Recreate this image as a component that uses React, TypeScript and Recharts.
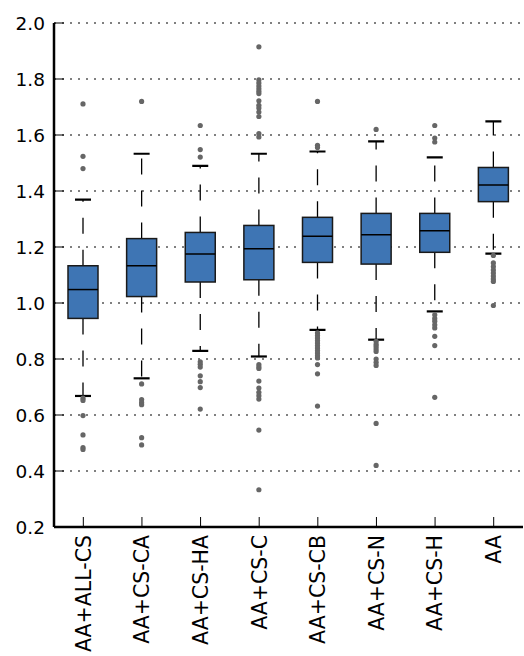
import React from "react";
import { Bar, CartesianGrid, ComposedChart, XAxis, YAxis } from "recharts";

const categories = ["AA+ALL-CS", "AA+CS-CA", "AA+CS-HA", "AA+CS-C", "AA+CS-CB", "AA+CS-N", "AA+CS-H", "AA"];
const lowCaps = [0.668, 0.731, 0.829, 0.809, 0.904, 0.869, 0.97, 1.176];
const q1s = [0.945, 1.023, 1.075, 1.083, 1.145, 1.139, 1.181, 1.362];
const medians = [1.048, 1.133, 1.175, 1.194, 1.238, 1.244, 1.258, 1.421];
const q3s = [1.133, 1.23, 1.252, 1.277, 1.306, 1.32, 1.32, 1.484];
const highCaps = [1.369, 1.533, 1.49, 1.533, 1.541, 1.577, 1.52, 1.649];
const outliers = [
  [1.711, 1.524, 1.48, 0.66, 0.652, 0.598, 0.529, 0.484, 0.477],
  [1.72, 0.711, 0.655, 0.645, 0.637, 0.519, 0.493],
  [1.634, 1.548, 1.521, 0.79, 0.781, 0.771, 0.74, 0.719, 0.698, 0.621],
  [1.915, 1.797, 1.786, 1.775, 1.765, 1.756, 1.748, 1.722, 1.706, 1.696, 1.682, 1.666, 1.605, 1.593,
    0.78, 0.772, 0.766, 0.721, 0.696, 0.681, 0.669, 0.657, 0.546, 0.333],
  [1.72, 1.563, 1.555, 0.893, 0.884, 0.875, 0.866, 0.857, 0.848, 0.839, 0.83, 0.821, 0.812, 0.804, 0.78, 0.747, 0.632],
  [1.62, 0.863, 0.853, 0.845, 0.836, 0.827, 0.8, 0.788, 0.777, 0.57, 0.42],
  [1.634, 1.589, 1.575, 0.958, 0.945, 0.935, 0.922, 0.911, 0.881, 0.848, 0.663],
  [1.17, 1.143, 1.13, 1.118, 1.107, 1.096, 1.086, 1.077, 0.991],
];
const yTicks = [0.2, 0.4, 0.6, 0.8, 1.0, 1.2, 1.4, 1.6, 1.8, 2.0];

const rows = categories.map((name, i) => ({
  name,
  lowCap: lowCaps[i],
  q1: q1s[i],
  median: medians[i],
  q3: q3s[i],
  highCap: highCaps[i],
  outliers: outliers[i],
}));

const FONT = "DejaVu Sans";

function BoxShape(props: any) {
  const { x, y, width, height, payload } = props;
  const top = Math.min(y, y + height);
  const bottom = Math.max(y, y + height);
  const span = payload.highCap - payload.lowCap;
  const py = (v: number) => top + ((payload.highCap - v) / span) * (bottom - top);
  const cx = x + width / 2;
  const yq1 = py(payload.q1);
  const yq3 = py(payload.q3);
  return (
    <g>
      <line x1={cx} x2={cx} y1={yq3} y2={top} stroke="#000" strokeWidth={1.3} strokeDasharray="16 16" />
      <line x1={cx} x2={cx} y1={yq1} y2={bottom} stroke="#000" strokeWidth={1.3} strokeDasharray="16 16" />
      <rect x={x} y={yq3} width={width} height={yq1 - yq3} fill="#3e75b4" stroke="#1a1a1a" strokeWidth={1.5} />
      <line x1={x} x2={x + width} y1={py(payload.median)} y2={py(payload.median)} stroke="#000" strokeWidth={1.5} />
      <line x1={cx - 8} x2={cx + 8} y1={top} y2={top} stroke="#000" strokeWidth={2.2} />
      <line x1={cx - 8} x2={cx + 8} y1={bottom} y2={bottom} stroke="#000" strokeWidth={2.2} />
      {payload.outliers.map((v: number, k: number) => (
        <circle key={k} cx={cx} cy={py(v)} r={2.6} fill="#666" />
      ))}
    </g>
  );
}

function XTick(props: any) {
  const { x, y, payload } = props;
  return (
    <text
      x={x}
      y={y}
      transform={`rotate(-90, ${x}, ${y})`}
      textAnchor="end"
      dy="0.36em"
      fontFamily={FONT}
      fontSize={20.5}
      fill="#000"
    >
      {payload.value}
    </text>
  );
}

function YTick(props: any) {
  const { x, y, payload } = props;
  return (
    <text x={x} y={y} textAnchor="end" dy="0.36em" fontFamily={FONT} fontSize={18.5} fill="#000">
      {Number(payload.value).toFixed(1)}
    </text>
  );
}

export default function App() {
  return (
    <div style={{ position: "absolute", left: 0, top: 0, background: "#fff" }}>
      <ComposedChart
        width={524}
        height={656}
        data={rows}
        margin={{ top: 23, right: 1, left: 0, bottom: 0 }}
      >
        <CartesianGrid vertical={false} stroke="#000" strokeDasharray="2 6" strokeWidth={1} />
        <XAxis
          dataKey="name"
          type="category"
          height={129}
          tickSize={-10}
          tickMargin={18}
          interval={0}
          tick={<XTick />}
          axisLine={{ stroke: "#000", strokeWidth: 2.5 }}
          tickLine={{ stroke: "#000", strokeWidth: 1 }}
        />
        <XAxis
          xAxisId="top"
          dataKey="name"
          type="category"
          orientation="top"
          height={0}
          tickSize={-10}
          interval={0}
          tickFormatter={() => ""}
          axisLine={{ stroke: "#000", strokeWidth: 2.5 }}
          tickLine={{ stroke: "#000", strokeWidth: 1 }}
        />
        <YAxis
          type="number"
          domain={[0.2, 2.0]}
          ticks={yTicks}
          width={54}
          tickSize={-10}
          tickMargin={19}
          allowDataOverflow
          tick={<YTick />}
          axisLine={{ stroke: "#000", strokeWidth: 2.5 }}
          tickLine={{ stroke: "#000", strokeWidth: 1 }}
        />
        <YAxis
          yAxisId="right"
          orientation="right"
          type="number"
          domain={[0.2, 2.0]}
          ticks={yTicks}
          width={0}
          tickSize={-10}
          allowDataOverflow
          tickFormatter={() => ""}
          axisLine={{ stroke: "#000", strokeWidth: 1.5 }}
          tickLine={{ stroke: "#000", strokeWidth: 1 }}
        />
        <Bar
          dataKey={(d: any) => [d.lowCap, d.highCap]}
          barSize={30}
          shape={<BoxShape />}
          isAnimationActive={false}
        />
      </ComposedChart>
    </div>
  );
}
